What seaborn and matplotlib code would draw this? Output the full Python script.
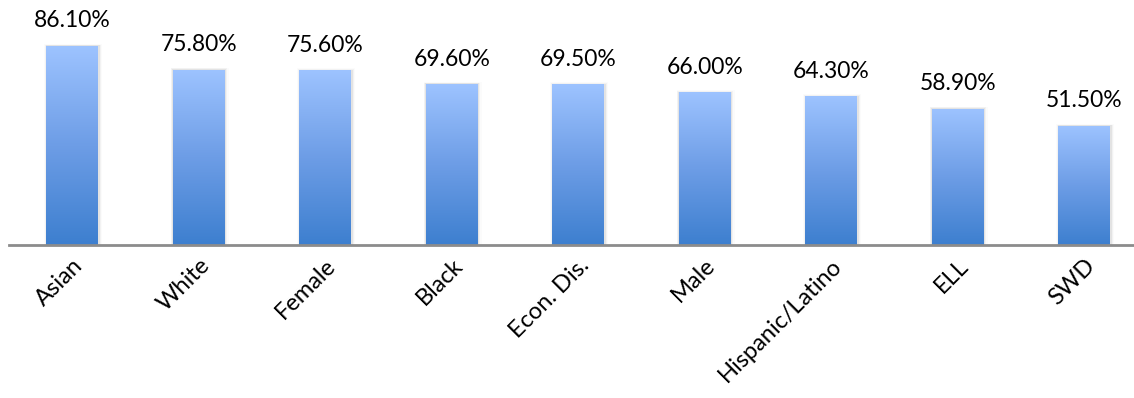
import numpy as np
import pandas as pd
import matplotlib
matplotlib.use("Agg")
import matplotlib.pyplot as plt
import seaborn as sns
from matplotlib.colors import LinearSegmentedColormap

groups = ["Asian", "White", "Female", "Black", "Econ. Dis.", "Male",
          "Hispanic/Latino", "ELL", "SWD"]
rates = [86.1, 75.8, 75.6, 69.6, 69.5, 66.0, 64.3, 58.9, 51.5]

df = pd.DataFrame({"group": groups, "rate": rates})

sns.set_theme(style="white")
plt.rcParams["font.family"] = ["Lato", "DejaVu Sans"]

W, H = 1134, 398
fig = plt.figure(figsize=(W / 100, H / 100), dpi=100)
left_px, base_px = 9, 245
pitch = 126.5
ax_w = pitch * len(groups)
ax = fig.add_axes([left_px / W, (H - base_px) / H, ax_w / W, base_px / H])

sns.barplot(data=df, x="group", y="rate", ax=ax, color="#6fa0e8",
            width=52 / pitch, saturation=1)

ymax = base_px / (199 / 86.1)

# vertical gradient fill for each bar, with a faint drop shadow
cmap = LinearSegmentedColormap.from_list("bar", ["#3d7fcf", "#6d9de6", "#9dc3ff"])
grad = np.linspace(0, 1, 256).reshape(-1, 1)
for p in list(ax.patches):
    x0, y0 = p.get_x(), p.get_y()
    w, h = p.get_width(), p.get_height()
    for k, a in enumerate([0.06, 0.035, 0.015]):
        off = 0.01 * (k + 1)
        sh = plt.Rectangle((x0 - off * 0.5, y0), w + off * 1.5, h + 0.3 * (k + 1),
                           facecolor="#000000", alpha=a, edgecolor="none",
                           zorder=1.5)
        ax.add_patch(sh)
    p.set_zorder(2)
    im = ax.imshow(grad, extent=[x0, x0 + w, y0, y0 + h], origin="lower",
                   cmap=cmap, aspect="auto", zorder=2.5)
    im.set_clip_path(p)
    p.set_edgecolor("none")
    ax.text(x0 + w / 2, y0 + h + 6.3, f"{h:.2f}%", ha="center", va="bottom",
            fontsize=16.5, color="#000000")

ax.set_xlim(-0.5, len(groups) - 0.5)
ax.set_ylim(0, ymax)
ax.set_xlabel("")
ax.set_ylabel("")
ax.set_yticks([])
for s in ["top", "right", "left"]:
    ax.spines[s].set_visible(False)
ax.spines["bottom"].set_color("#8c8c8c")
ax.spines["bottom"].set_linewidth(2)
ax.tick_params(axis="x", length=0, pad=7)
ax.set_xticks(range(len(groups)))
ax.set_xticklabels(groups, rotation=45, ha="right", rotation_mode="anchor",
                   fontsize=17, color="#000000")
ax.patch.set_alpha(0)

fig.savefig("out.png", dpi=100)
